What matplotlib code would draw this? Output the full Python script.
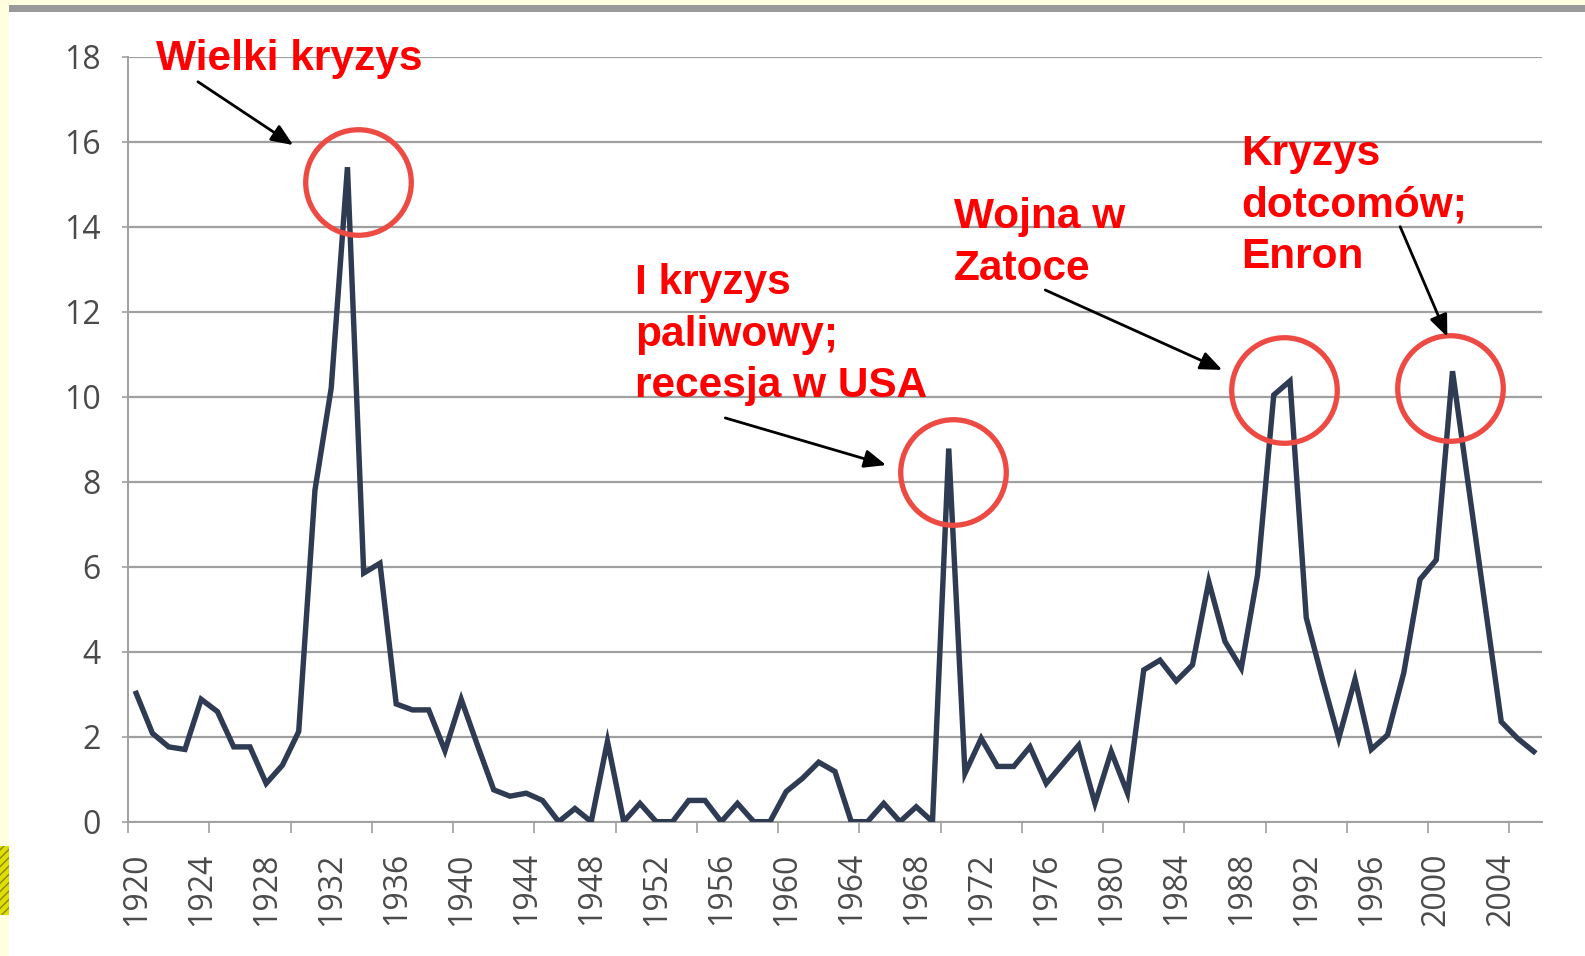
import matplotlib
matplotlib.use('Agg')
import matplotlib.pyplot as plt
from matplotlib.patches import Rectangle

# dane (lata 1920-2006)
lata = list(range(1920, 2007))
wartosci = [3.02, 2.08, 1.76, 1.70, 2.88, 2.59, 1.76, 1.76, 0.90, 1.33,
            2.12, 7.80, 10.2, 15.4, 5.85, 6.08, 2.77, 2.63, 2.63, 1.67,
            2.88, 1.80, 0.75, 0.60, 0.67, 0.50, 0.00, 0.31, 0.00, 1.89,
            0.00, 0.43, 0.00, 0.00, 0.50, 0.50, 0.00, 0.43, 0.00, 0.00,
            0.71, 1.02, 1.40, 1.18, 0.00, 0.00, 0.43, 0.00, 0.35, 0.00,
            8.78, 1.14, 1.96, 1.30, 1.30, 1.76, 0.90, 1.35, 1.80, 0.43,
            1.65, 0.67, 3.57, 3.80, 3.31, 3.69, 5.65, 4.24, 3.61, 5.80,
            10.04, 10.37, 4.80, 3.35, 1.96, 3.35, 1.70, 2.04, 3.50, 5.70,
            6.16, 10.60, 7.85, 5.10, 2.35, 1.96, 1.65]

etykiety_lat = list(range(1920, 2005, 4))
y_ticks = list(range(0, 19, 2))

# podpisy, strzalki i kolka
podpisy = ['Wielki kryzys',
           'I kryzys\npaliwowy;\nrecesja w USA',
           'Wojna w\nZatoce',
           'Kryzys\ndotcomów;\nEnron']
# (x, y ostatniej linii tekstu)
pozycje_podpisow = [(1921.2, 17.69), (1950.7, 9.99), (1970.3, 12.75), (1988.0, 13.03)]
strzalki_od = [(1923.8, 17.41), (1956.25, 9.50), (1975.94, 12.51), (1997.78, 14.0)]
strzalki_do = [(1929.66, 15.92), (1966.15, 8.39), (1986.83, 10.63), (2000.68, 11.41)]
kolka = [(1933.66, 15.05), (1970.28, 8.23), (1990.62, 10.16), (2000.86, 10.21)]

szary = '#a0a0a0'

fig = plt.figure(figsize=(15.85, 9.56), dpi=100)
fig.patch.set_facecolor('white')

# ramka slajdu
fig.add_artist(Rectangle((0, 0), 0.0055, 1, transform=fig.transFigure,
                         facecolor='#ffffe0', edgecolor='none'))
fig.add_artist(Rectangle((0, 0.9945), 1, 0.0055, transform=fig.transFigure,
                         facecolor='#ffffe0', edgecolor='none'))
fig.add_artist(Rectangle((0.0055, 0.9875), 0.9945, 0.007, transform=fig.transFigure,
                         facecolor='#9a9a9a', edgecolor='none'))
fig.add_artist(Rectangle((0, 0.043), 0.0055, 0.072, transform=fig.transFigure,
                         facecolor='#e0e000', edgecolor='#8a8a00', hatch='////', lw=0))

ax = fig.add_axes([0.0808, 0.1405, 0.8920, 0.8002])

ax.plot(lata, wartosci, color='#2f3b52', lw=3.9, solid_joinstyle='miter', zorder=3)

ax.set_xlim(1919.5, 2006.5)
ax.set_ylim(0, 18)

for s in ['top', 'right']:
    ax.spines[s].set_visible(False)
for s in ['left', 'bottom']:
    ax.spines[s].set_color(szary)
    ax.spines[s].set_linewidth(1.4)

ax.set_yticks(y_ticks)
ax.yaxis.grid(True, color=szary, lw=1.6)
ax.set_axisbelow(True)
ax.tick_params(axis='y', direction='out', length=4.5, width=1.2, color=szary,
               pad=15, labelsize=23, labelcolor='#4a4a4a')

ax.set_xticks(etykiety_lat, [str(r) for r in etykiety_lat])
ax.set_xticks([1919.5 + 5 * i for i in range(18)], minor=True)
ax.tick_params(axis='x', which='major', length=0, pad=22, labelsize=23,
               labelcolor='#4a4a4a', labelrotation=90)
ax.tick_params(axis='x', which='minor', direction='out', length=8, width=1.2, color=szary)

for lab in ax.get_xticklabels() + ax.get_yticklabels():
    lab.set_family('Open Sans')

for tekst, (x, y) in zip(podpisy, pozycje_podpisow):
    ax.text(x, y, tekst, color='#ff0000', fontsize=30.5, fontweight='bold',
            family='Liberation Sans', ha='left', va='baseline', linespacing=1.37,
            zorder=5)

for start, koniec in zip(strzalki_od, strzalki_do):
    ax.annotate('', xy=koniec, xytext=start,
                arrowprops=dict(arrowstyle='-|>,head_length=0.6,head_width=0.25',
                                color='black', lw=2, mutation_scale=22,
                                shrinkA=0, shrinkB=0), zorder=5)

for x, y in kolka:
    ax.plot([x], [y], marker='o', markersize=76, markerfacecolor='none',
            markeredgecolor='#ee4a44', markeredgewidth=3.8, zorder=4, clip_on=False)

fig.savefig('out.png', dpi=100)
